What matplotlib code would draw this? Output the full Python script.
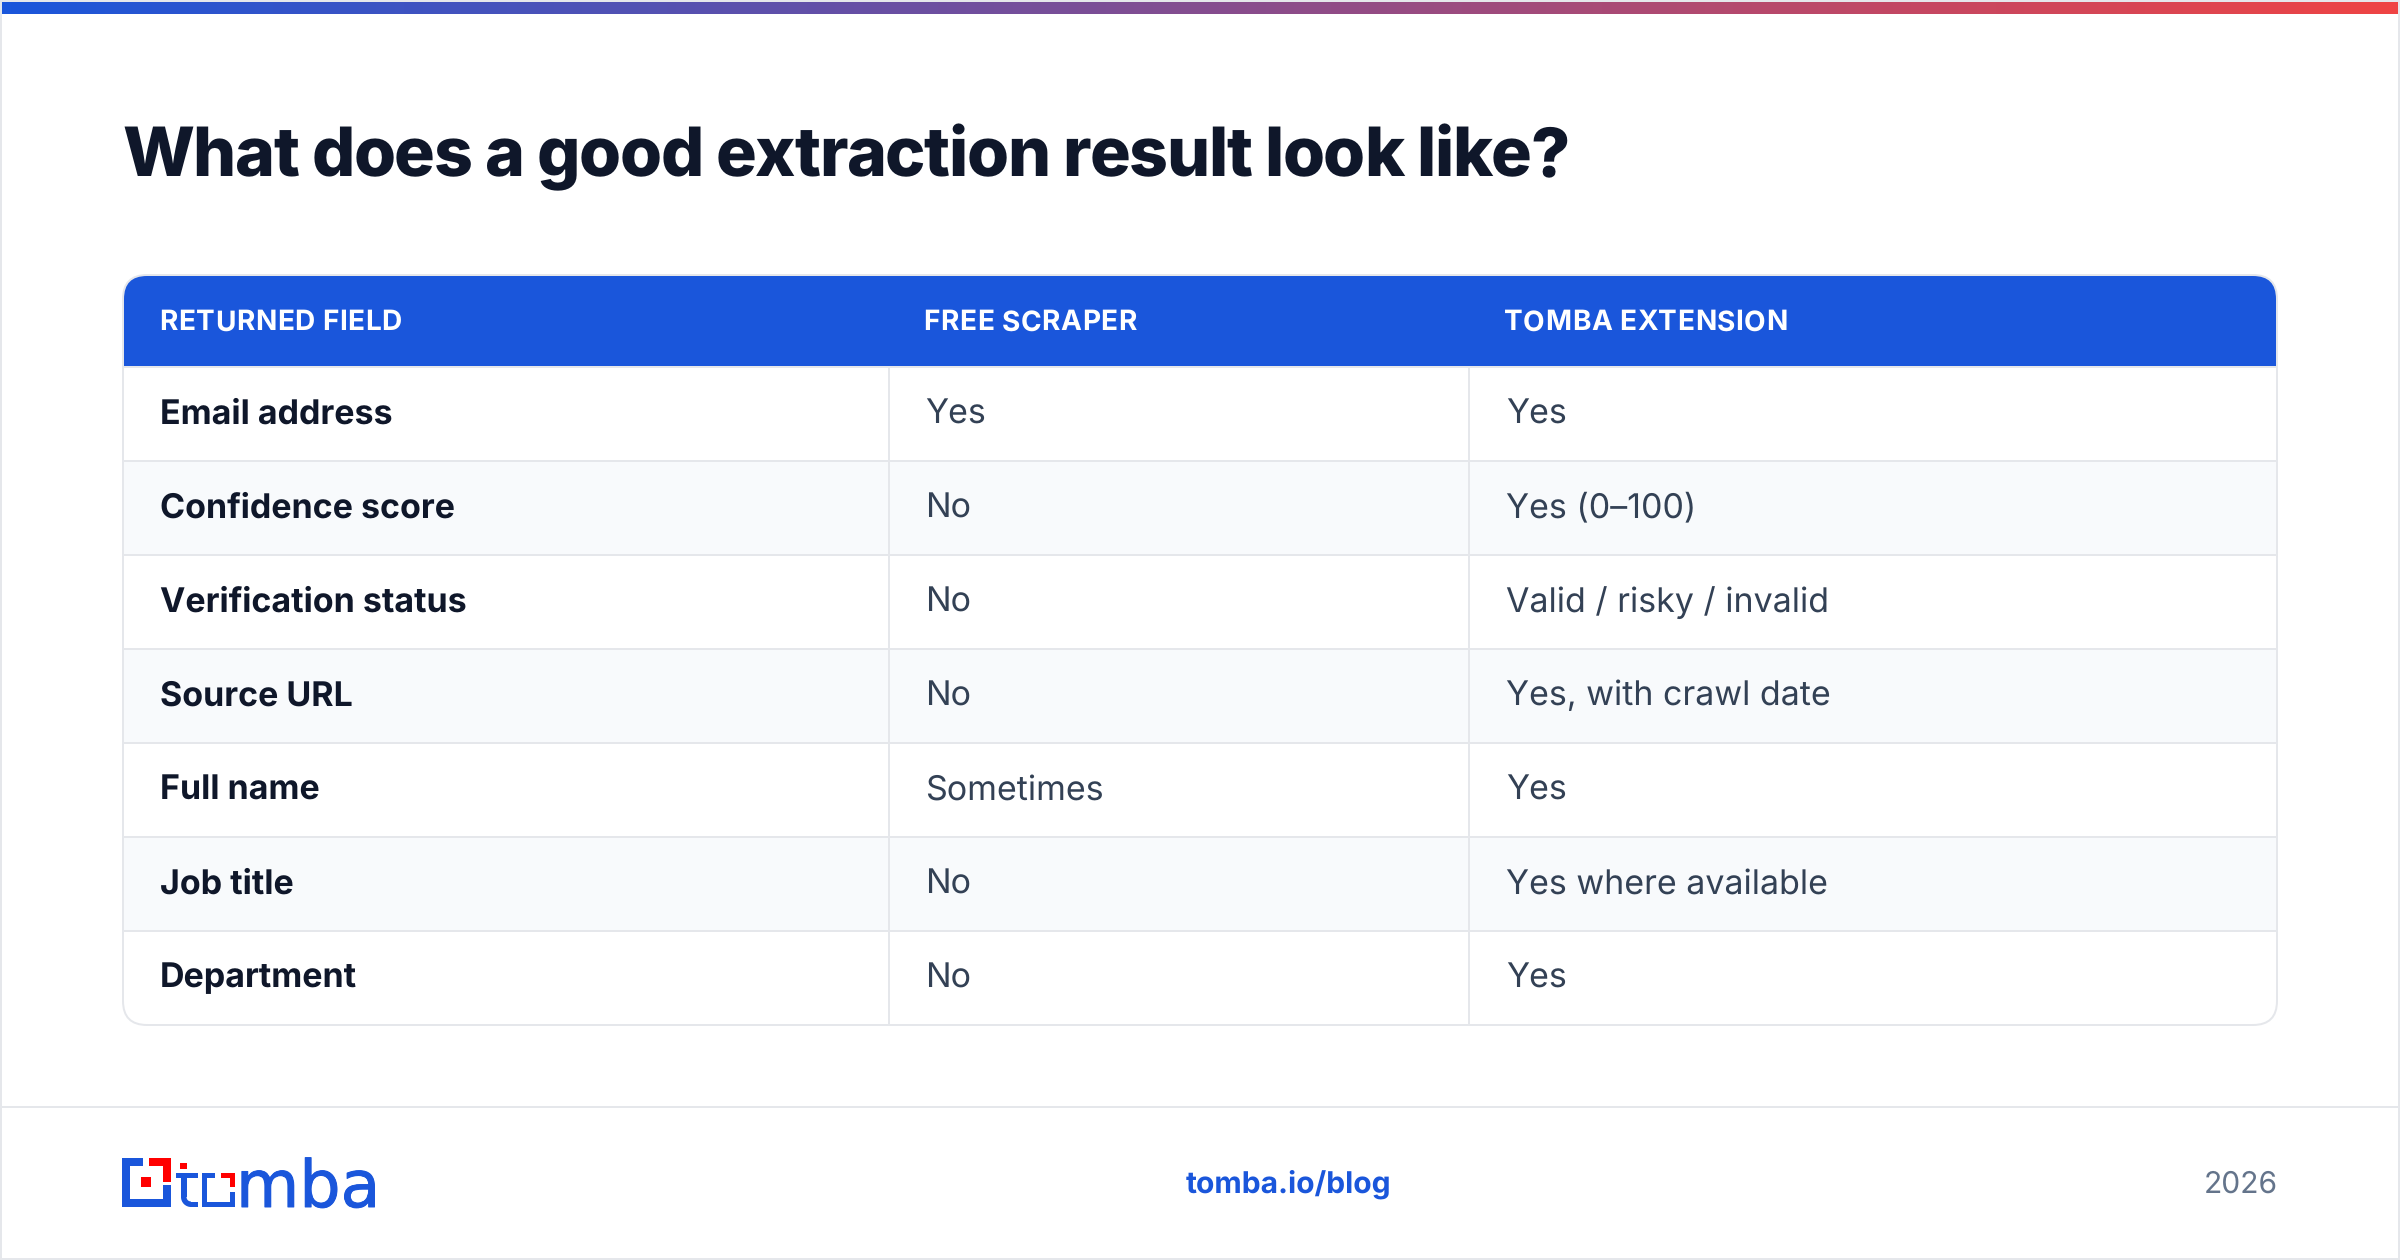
import numpy as np
import matplotlib
matplotlib.use("Agg")
import matplotlib.pyplot as plt
import matplotlib.patheffects as pe
from matplotlib.colors import LinearSegmentedColormap
from matplotlib.patches import FancyBboxPatch, Rectangle, Wedge
from matplotlib.text import Text

title = "What does a good extraction result look like?"
headers = ["RETURNED FIELD", "FREE SCRAPER", "TOMBA EXTENSION"]
fields = ["Email address", "Confidence score", "Verification status", "Source URL",
          "Full name", "Job title", "Department"]
free_scraper = ["Yes", "No", "No", "No", "Sometimes", "No", "No"]
tomba_ext = ["Yes", "Yes (0–100)", "Valid / risky / invalid", "Yes, with crawl date",
             "Yes", "Yes where available", "Yes"]

BLUE = "#1a56db"
RED = "#ff0000"
LINE = "#e5e7eb"
DARK = "#0f172a"
BODY = "#334155"

plt.rcParams["font.family"] = ["Inter", "DejaVu Sans"]
plt.rcParams["text.hinting"] = "none"
plt.rcParams["text.hinting_factor"] = 1


class SpacedText(Text):
    # one string, drawn with css style letter-spacing (pixels)
    spacing = 0

    def draw(self, renderer):
        s = self.get_text()
        prop = self.get_fontproperties()
        x, y = self.get_transform().transform(self.get_position())
        y = renderer.height - y
        gc = renderer.new_gc()
        gc.set_foreground(self.get_color())
        gc.set_antialiased(True)
        for i, ch in enumerate(s):
            w = renderer.get_text_width_height_descent(s[:i + 1], prop, False)[0]
            w0 = renderer.get_text_width_height_descent(ch, prop, False)[0]
            renderer.draw_text(gc, x + w - w0 + i * self.spacing, y, ch, prop, 0, False)
        gc.restore()


def spaced(x, y, s, spacing, **kw):
    t = SpacedText(x, y, s, **kw)
    t.spacing = spacing
    ax._add_text(t)
    return t


# pixel coordinates, y pointing down
fig = plt.figure(figsize=(24, 12.6), dpi=100)
ax = fig.add_axes([0, 0, 1, 1])


def px(size):
    return size * 0.72


def box(x0, y0, x1, y1, color, zorder=2):
    r = Rectangle((x0, y0), x1 - x0, y1 - y0, fc=color, ec="none", zorder=zorder)
    ax.add_patch(r)
    return r


# top gradient
cmap = LinearSegmentedColormap.from_list("bar", [BLUE, "#ef4444"])
ax.imshow(np.linspace(0, 1, 512).reshape(1, -1), cmap=cmap, aspect="auto",
          extent=(2, 2398, 14, 2), zorder=3)
ax.set_xlim(0, 2400)
ax.set_ylim(1260, 0)
ax.axis("off")

# page frame
box(0, 0, 2400, 2, LINE)
box(0, 0, 2, 1260, LINE)
box(2398, 0, 2400, 1260, LINE)
box(0, 1258, 2400, 1260, LINE)

spaced(122, 176, title, -1.36, fontsize=px(68), fontweight=800, color=DARK, va="baseline")

# table
left, right, top, bottom = 123, 2277, 275, 1025
head_bottom = 366
first_row = 367
row_h = (bottom - first_row) / len(fields)
col_lines = [889, 1469]
header_x = [159.5, 923.5, 1504]
cell_x = [160, 925.5, 1506]

clip = FancyBboxPatch((left, top), right - left, bottom - top,
                      boxstyle="round,pad=0,rounding_size=24", fc="white", ec="none")
ax.add_patch(clip)

clipped = [box(left, top, right, head_bottom, BLUE)]
clipped += ax.plot([left, right], [first_row, first_row], color=LINE, lw=1.44, zorder=4)
for i, name in enumerate(fields):
    y0 = first_row + i * row_h
    if i % 2 == 1:
        clipped.append(box(left, y0, right, y0 + row_h, "#f8fafc"))
    clipped += ax.plot([left, right], [y0 + row_h, y0 + row_h], color=LINE, lw=1.44, zorder=4)
    base = y0 + row_h / 2 + 9.5
    ax.text(cell_x[0], base, name, fontsize=px(34), fontweight="bold", color=DARK,
            va="baseline", zorder=6)
    ax.text(cell_x[1], base, free_scraper[i], fontsize=px(34), color=BODY,
            va="baseline", zorder=6)
    ax.text(cell_x[2], base, tomba_ext[i], fontsize=px(34), color=BODY,
            va="baseline", zorder=6)
for xl in col_lines:
    clipped += ax.plot([xl, xl], [first_row, bottom], color=LINE, lw=1.44, zorder=4)
for art in clipped:
    art.set_clip_path(clip)
ax.add_patch(FancyBboxPatch((left, top), right - left, bottom - top,
                            boxstyle="round,pad=0,rounding_size=24", fc="none", ec=LINE,
                            lw=1.44, zorder=5))

for name, x in zip(headers, header_x):
    spaced(x, 330.5, name, 0.5, fontsize=px(28), fontweight="bold", color="white",
           va="baseline", zorder=6)

# footer
box(2, 1106, 2398, 1108, LINE)
ax.text(1186, 1193, "tomba.io/blog", fontsize=px(30), fontweight="bold", color=BLUE,
        va="baseline")
ax.text(2278, 1193, "2026", fontsize=px(30), color="#64748b", ha="right", va="baseline")

# logo mark
for x0, y0, x1, y1 in [(122, 1158, 143, 1166), (122, 1158, 130, 1207), (122, 1199, 171, 1207),
                       (163, 1185, 171, 1207),
                       (202, 1173, 207, 1207), (202, 1173, 215, 1178), (202, 1202, 235, 1207),
                       (230, 1192, 235, 1207),
                       (181, 1173, 187, 1197), (176, 1173, 198, 1178), (191, 1202, 198, 1207)]:
    box(x0, y0, x1, y1, BLUE)
ax.add_patch(Wedge((191, 1197), 10, 90, 180, width=5.5, fc=BLUE, ec="none", zorder=2))
for x0, y0, x1, y1 in [(149, 1158, 171, 1166), (163, 1158, 171, 1182), (141, 1177, 151, 1187),
                       (180, 1163, 187, 1169),
                       (221, 1173, 235, 1178), (230, 1173, 235, 1187)]:
    box(x0, y0, x1, y1, RED)
ax.text(236, 1207, "mba", fontsize=px(65), color=BLUE, va="baseline", family="DejaVu Sans",
        path_effects=[pe.withStroke(linewidth=0.7, foreground=BLUE)])

fig.savefig("out.png", dpi=100)
plt.close(fig)
